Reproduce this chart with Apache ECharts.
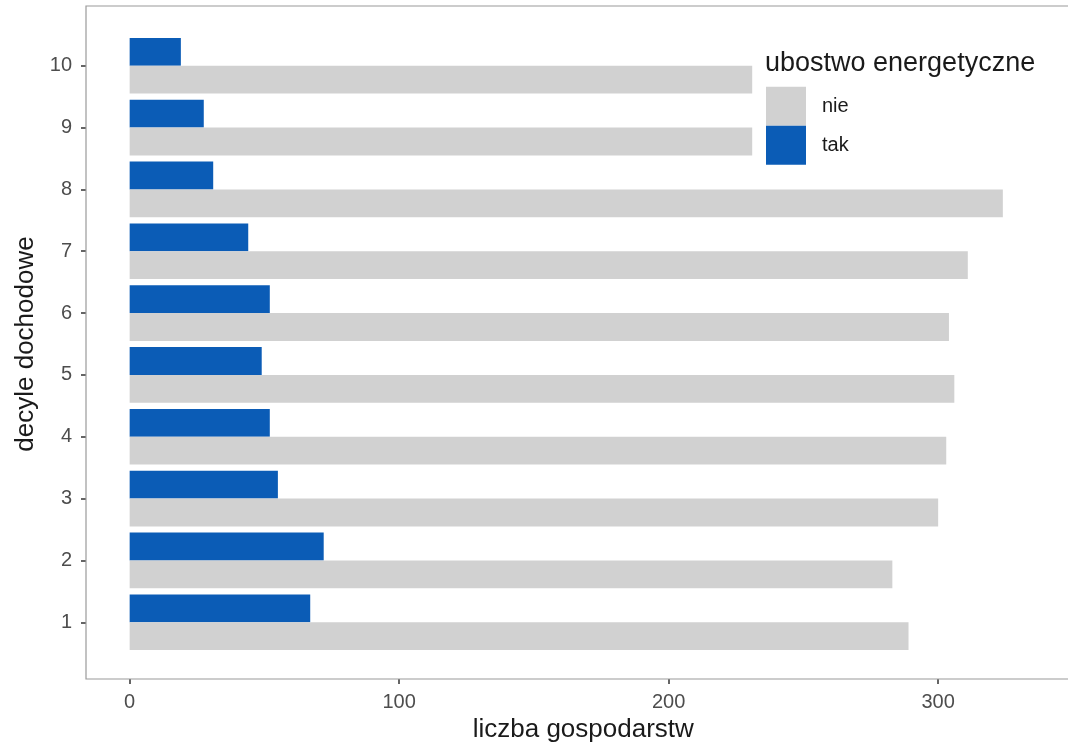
<!DOCTYPE html>
<html>
<head>
<meta charset="utf-8">
<script src="https://cdn.jsdelivr.net/npm/echarts@6/dist/echarts.min.js"></script>
<style>html,body{margin:0;padding:0;background:#fff}#c{width:1068px;height:743px}</style>
</head>
<body>
<div id="c"></div>
<script>
var categories = ['1','2','3','4','5','6','7','8','9','10'];
var nieValues = [289, 283, 300, 303, 306, 304, 311, 324, 231, 231];
var takValues = [67, 72, 55, 52, 49, 52, 44, 31, 27.5, 19];
var xTicks = [0, 100, 200, 300];
var seriesNames = ['nie', 'tak'];

var xMaxData = Math.max.apply(null, nieValues);
var xMin = -0.05 * xMaxData;
var xMax = 1.05 * xMaxData;
var FONT = 'Liberation Sans, Arial, Helvetica, sans-serif';

var chart = echarts.init(document.getElementById('c'), null, {renderer: 'canvas'});
chart.setOption({
  animation: false,
  backgroundColor: '#ffffff',
  grid: {left: 86, right: 21.5, top: 34.8, bottom: 89.8, containLabel: false, outerBoundsMode: 'none'},
  xAxis: {
    type: 'value', min: xMin, max: xMax, offset: 25.8,
    axisLine: {show: false, onZero: false},
    splitLine: {show: false},
    axisTick: {show: true, customValues: xTicks, length: 5, lineStyle: {color: '#333333', width: 1.5}},
    axisLabel: {customValues: xTicks, margin: 13, color: '#4d4d4d', fontSize: 20, fontFamily: FONT},
    name: 'liczba gospodarstw', nameLocation: 'middle', nameGap: 38,
    nameTextStyle: {color: '#1a1a1a', fontSize: 26, fontFamily: FONT, padding: [0, 0, 0, 34]}
  },
  yAxis: {
    type: 'category', data: categories,
    axisLine: {show: false, onZero: false},
    axisTick: {show: true, alignWithLabel: true, length: 5, lineStyle: {color: '#333333', width: 1.5}},
    axisLabel: {margin: 14, color: '#4d4d4d', fontSize: 20, fontFamily: FONT},
    splitLine: {show: false},
    name: 'decyle dochodowe', nameLocation: 'middle', nameGap: 43, nameRotate: 90,
    nameTextStyle: {color: '#1a1a1a', fontSize: 26, fontFamily: FONT}
  },
  legend: {
    orient: 'vertical', left: 766, top: 86.7, padding: 0, itemGap: 0, itemWidth: 40, itemHeight: 39,
    icon: 'rect', data: seriesNames,
    textStyle: {color: '#1a1a1a', fontSize: 20, fontFamily: FONT, padding: [0, 0, 0, 11]}
  },
  graphic: [
    {type: 'rect', z: 100, silent: true, shape: {x: 86, y: 6, width: 1100, height: 673},
     style: {fill: 'none', stroke: '#9a9a9a', lineWidth: 1.2}},
    {type: 'text', left: 765, top: 50, silent: true,
     style: {text: 'ubostwo energetyczne', fill: '#1a1a1a', fontSize: 27, fontFamily: FONT}}
  ],
  series: [
    {name: seriesNames[1], type: 'bar', data: takValues, barGap: '0%', barCategoryGap: '10%',
     itemStyle: {color: '#0b5cb6'}},
    {name: seriesNames[0], type: 'bar', data: nieValues, barGap: '0%', barCategoryGap: '10%',
     itemStyle: {color: '#d1d1d1'}}
  ]
});
</script>
</body>
</html>
